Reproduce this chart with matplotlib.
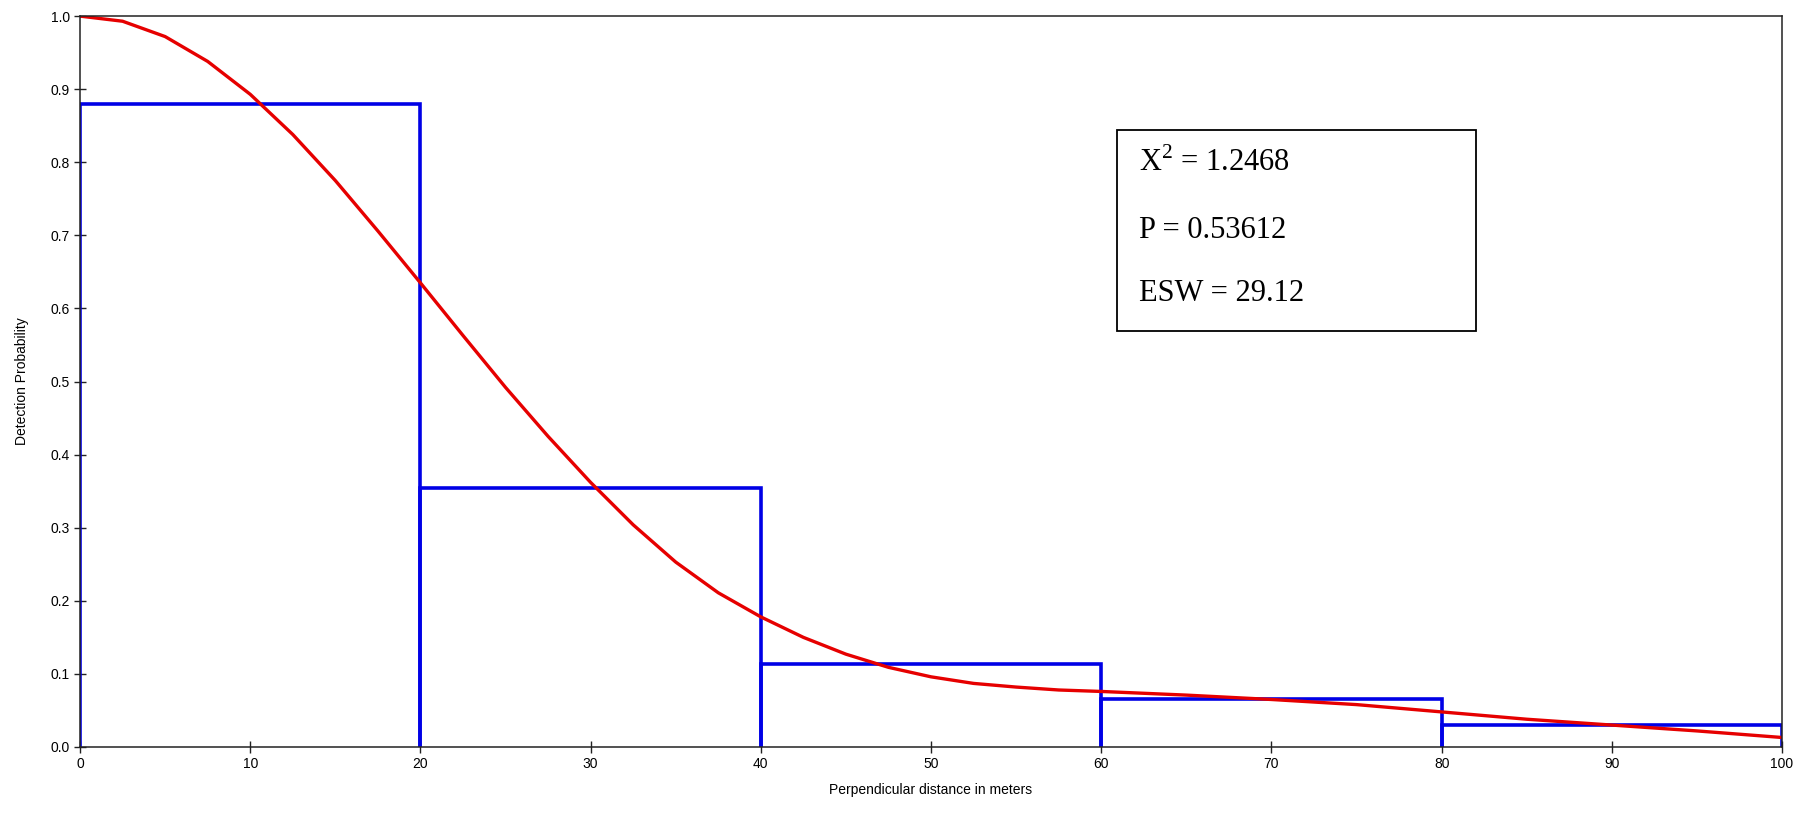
import matplotlib
matplotlib.use("Agg")
import matplotlib.pyplot as plt
from matplotlib.patches import Rectangle

plt.rcParams['font.family'] = ['Liberation Sans', 'DejaVu Sans']
plt.rcParams['mathtext.fontset'] = 'custom'
plt.rcParams['mathtext.rm'] = 'Liberation Serif'

# histogram of detections (bin edges and scaled heights)
bin_left = [0, 20, 40, 60, 80]
bin_width = 20
bin_height = [0.88, 0.355, 0.113, 0.065, 0.030]

# fitted detection function
dist = [0, 2.5, 5, 7.5, 10, 12.5, 15, 17.5, 20, 22.5, 25, 27.5, 30, 32.5, 35,
        37.5, 40, 42.5, 45, 47.5, 50, 52.5, 55, 57.5, 60, 65, 70, 75, 80, 85,
        90, 95, 100]
prob = [1.0, 0.993, 0.972, 0.938, 0.893, 0.838, 0.775, 0.706, 0.635, 0.563,
        0.492, 0.425, 0.362, 0.304, 0.253, 0.211, 0.178, 0.150, 0.127, 0.109,
        0.096, 0.087, 0.082, 0.078, 0.076, 0.071, 0.065, 0.058, 0.048, 0.038,
        0.030, 0.022, 0.013]

stats = ["X$^2$ = 1.2468", "P = 0.53612", "ESW = 29.12"]

fig = plt.figure(figsize=(18.11, 8.18), dpi=100)
ax = fig.add_axes([0.0442, 0.0868, 0.9398, 0.8935])

for l, h in zip(bin_left, bin_height):
    r = l + bin_width
    ax.plot([l, l, r, r], [0, h, h, 0], color='#0000e6', lw=2.6,
            solid_joinstyle='miter', zorder=2)

ax.plot(dist, prob, color='#e60000', lw=2.4, zorder=3,
        solid_joinstyle='round')

ax.set_xlim(0, 100)
ax.set_ylim(0, 1.0)
ax.set_xticks(range(0, 101, 10))
ax.set_yticks([i / 10 for i in range(11)])
ax.set_yticklabels([f"{i / 10:.1f}" for i in range(11)])
ax.tick_params(direction='inout', length=8, width=1, labelsize=10, color='#222222')
for s in ax.spines.values():
    s.set_linewidth(1.1)
    s.set_color('#222222')
    s.set_zorder(4)

ax.set_xlabel("Perpendicular distance in meters", fontsize=10, labelpad=8)
ax.set_ylabel("Detection Probability", fontsize=10, labelpad=15)

ax.add_patch(Rectangle((0.609, 0.569), 0.211, 0.275, transform=ax.transAxes,
                       fill=False, edgecolor='black', lw=1.3, zorder=5))
for txt, yy in zip(stats, [0.80, 0.706, 0.621]):
    ax.text(0.622, yy, txt, transform=ax.transAxes, fontsize=22,
            family='Liberation Serif', va='center', ha='left', zorder=6)

fig.savefig("out.png", dpi=100)
